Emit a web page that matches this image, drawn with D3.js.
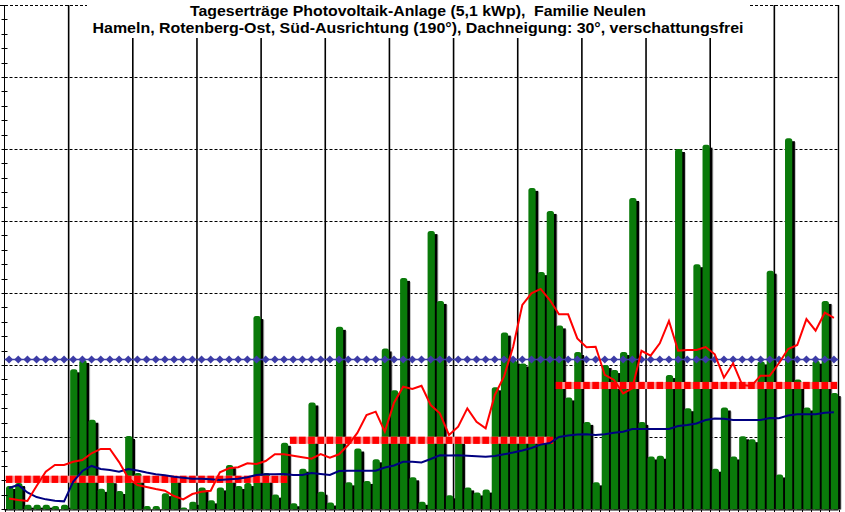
<!DOCTYPE html>
<meta charset="utf-8">
<script src="https://d3js.org/d3.v7.min.js"></script>
<style>
	body{
		margin:0;
		background:#fff;
	}
	svg text{
		font-family: 'Liberation Sans', Arial, sans-serif;
		font-weight:bold;
		white-space:pre;
	}
</style>
<div id="chart"></div>
<script>
	// daily yield (kWh) Jan 1 - Mar 31, leap year -> 91 days
	var dailyKwh = [1.6,1.8,0.3,0.3,0.3,0.2,0.3, 9.7,10.35,6.2,1.4,2.0,1.25,5.07, 2.5,0.2,0.2,1.1,2.2,0.1,0.5,
		1.5,0.6,1.5,3.05,1.6,1.8,13.4, 2.5,1.0,4.6,
		0.4,2.8,7.4,1.2,0.45,12.65,1.85, 4.2,1.95,3.45,11.15,8.25,16.05,2.2, 0.5,19.3,14.45,0.95,4.75,1.5,1.15,
		1.35,8.45,12.25,10.3,10.1,22.3,16.45, 20.7,
		12.75,7.75,10.9,6.05,1.85,10.0,9.65, 10.9,21.6,6.05,3.65,3.7,9.3,25.0, 7.0,17.0,25.3,2.8,7.05,3.65,5.05,
		4.85,10.25,16.55,2.4,25.75,9.0,7.05, 10.3,14.45,8.05]

	// red line
	var redLine = [0.73,0.63,0.56,1.6,2.59,3.06,3.06,3.28,3.4,3.87,4.17,4.17,3.26,2.15,1.67,1.53,1.39,1.27,0.9,0.67,
		1.04,1.2,1.27,2.55,2.83,2.9,3.17,3.13,3.33,3.8,3.8,
		3.7,3.59,3.49,3.82,3.56,3.8,4.44,5.28,6.53,6.76,5.37,7.38,8.49,8.33,8.56,7.22,6.65,5.14,5.72,6.99,
		6.06,5.6,7.92,9.19,11.27,14.17,14.98,15.28,14.51,
		13.52,13.52,11.85,11.23,11.27,9.31,8.96,8.03,8.38,10.99,10.65,11.51,13.06,10.99,11.04,11.04,11.25,
		10.74,9.12,10.12,8.61,8.54,9.26,9.26,10.12,11.11,11.39,13.19,12.38,13.63,13.28]

	// blue line
	var blueLine = [1.46,1.67,1.15,0.83,0.67,0.58,0.53,1.9,2.64,2.99,2.78,2.71,2.59,2.78,2.67,2.53,2.41,2.34,2.24,2.17,
		2.1,2.1,2.06,2.01,2.06,2.1,2.2,2.36,2.41,2.41,2.43,
		2.36,2.36,2.5,2.43,2.36,2.64,2.66,2.66,2.66,2.66,2.88,3.02,3.28,3.28,3.23,3.47,3.73,3.72,3.74,3.7,
		3.66,3.63,3.68,3.8,3.92,4.06,4.24,4.47,4.58,
		5.0,5.1,5.17,5.19,5.14,5.19,5.3,5.37,5.56,5.56,5.56,5.56,5.56,5.76,5.83,5.94,6.18,6.28,6.27,6.18,
		6.18,6.18,6.18,6.32,6.3,6.49,6.58,6.58,6.58,6.69,6.72]

	var monthStart = [0,31,60]
	var monthDays = [31,29,31]
	var monthAvg = [2.06,4.77,8.58]
	var targetLevel = 10.38

	var titleLines = ["Tageserträge Photovoltaik-Anlage (5,1 kWp),  Familie Neulen",
		"Hameln, Rotenberg-Ost, Süd-Ausrichtung (190°), Dachneigung: 30°, verschattungsfrei"]

	var w = 845
	var h = 512
	var nDays = dailyKwh.length

	var x = d3.scaleLinear().domain([0,nDays]).range([4.5,838.5])
	var y = d3.scaleLinear().domain([0,35]).range([509,5])
	var dw = x(1)-x(0)
	function cx(i){ return x(i)+dw/2 }

	var svg = d3.select("#chart").append("svg").attr("width",w).attr("height",h)
	svg.append("rect").attr("width",w).attr("height",h).attr("fill","#fff")

	svg.append("clipPath").attr("id","plotClip")
		.append("rect").attr("x",0).attr("y",0).attr("width",w).attr("height",y(0)+0.5)

	// horizontal dashed grid
	var grid = svg.append("g")
	grid.selectAll(".hgrid")
		.data(d3.range(5,36,5))
		.join("line")
		.attr("x1",function(d){ return d==35 ? 0 : x(0) })
		.attr("x2",x(nDays))
		.attr("y1",function(d){ return Math.round(y(d))+0.5 })
		.attr("y2",function(d){ return Math.round(y(d))+0.5 })
		.attr("stroke","#000")
		.attr("stroke-dasharray","3,2")

	// week lines
	grid.selectAll(".vgrid")
		.data(d3.range(7,nDays,7))
		.join("line")
		.attr("x1",function(d){ return x(d) })
		.attr("x2",function(d){ return x(d) })
		.attr("y1",y(35))
		.attr("y2",y(0))
		.attr("stroke","#000")
		.attr("stroke-width",1.6)

	// right border
	grid.append("line").attr("x1",x(nDays)).attr("x2",x(nDays)).attr("y1",y(35)).attr("y2",y(0))
		.attr("stroke","#000").attr("stroke-width",1.4)

	// bars with shadow
	var bars = svg.append("g").attr("clip-path","url(#plotClip)")
	var bw = dw-1.9
	var barG = bars.selectAll(".bar")
		.data(dailyKwh)
		.join("g")
	barG.append("rect")
		.attr("x",function(d,i){ return x(i)+1.5+3.6 })
		.attr("y",function(d){ return y(d)+4 })
		.attr("width",bw)
		.attr("height",function(d){ return y(0)-y(d)+6 })
		.attr("fill","#9a9a9a")
		.attr("opacity",0.6)
	barG.append("rect")
		.attr("x",function(d,i){ return x(i)+1.5+2.6 })
		.attr("y",function(d){ return y(d)+3 })
		.attr("width",bw)
		.attr("height",function(d){ return y(0)-y(d)+6 })
		.attr("fill","#000")
	barG.append("rect")
		.attr("x",function(d,i){ return x(i)+1.5 })
		.attr("y",function(d){ return y(d) })
		.attr("width",bw)
		.attr("height",function(d){ return y(0)-y(d)+6 })
		.attr("rx",2.5)
		.attr("fill","#0a7a0a")

	// axes
	var axisG = svg.append("g")
	axisG.append("line").attr("x1",x(0)).attr("x2",x(0)).attr("y1",y(35)).attr("y2",y(0)+1)
		.attr("stroke","#000")
	axisG.selectAll(".ytick")
		.data(d3.range(0,36,1))
		.join("line")
		.attr("x1",1.5).attr("x2",7.5)
		.attr("y1",function(d){ return Math.round(y(d))+0.5 })
		.attr("y2",function(d){ return Math.round(y(d))+0.5 })
		.attr("stroke","#000")
	axisG.append("line").attr("x1",x(0)).attr("x2",x(nDays)).attr("y1",y(0)+1).attr("y2",y(0)+1)
		.attr("stroke","#000")
	axisG.selectAll(".xtick")
		.data(d3.range(0,nDays+1))
		.join("line")
		.attr("x1",function(d){ return Math.round(x(d))+0.5 })
		.attr("x2",function(d){ return Math.round(x(d))+0.5 })
		.attr("y1",y(0)+1).attr("y2",h)
		.attr("stroke","#000")

	// target level, diamonds
	var diamondColor = "#3c3ca6"
	svg.append("line").attr("x1",x(0)).attr("x2",x(nDays))
		.attr("y1",y(targetLevel)).attr("y2",y(targetLevel))
		.attr("stroke",diamondColor).attr("stroke-width",1.5)
	svg.append("g").selectAll("path")
		.data(d3.range(nDays))
		.join("path")
		.attr("d",function(d){
			var px = cx(d), py = y(targetLevel)
			return "M"+px+","+(py-4)+"L"+(px+4)+","+py+"L"+px+","+(py+4)+"L"+(px-4)+","+py+"Z"
		})
		.attr("fill",diamondColor)

	// monthly averages as squares
	var monthG = svg.append("g")
	for(var m in monthAvg){
		var days = d3.range(monthStart[m],monthStart[m]+monthDays[m])
		monthG.append("line")
			.attr("x1",cx(days[0])).attr("x2",cx(days[days.length-1]))
			.attr("y1",y(monthAvg[m])).attr("y2",y(monthAvg[m]))
			.attr("stroke","#ff9a9a").attr("stroke-width",7)
		monthG.selectAll(".sq"+m)
			.data(days)
			.join("rect")
			.attr("x",function(d){ return cx(d)-3.3 })
			.attr("y",y(monthAvg[m])-3.6)
			.attr("width",6.6)
			.attr("height",7.2)
			.attr("fill","#ff0000")
	}

	var line = d3.line()
		.x(function(d,i){ return cx(i) })
		.y(function(d){ return y(d) })

	svg.append("path").datum(blueLine)
		.attr("d",line)
		.attr("fill","none")
		.attr("stroke","#000080")
		.attr("stroke-width",2)

	svg.append("path").datum(redLine)
		.attr("d",line)
		.attr("fill","none")
		.attr("stroke","#ff0000")
		.attr("stroke-width",2)

	// title
	svg.append("rect").attr("x",87).attr("y",0).attr("width",661).attr("height",38).attr("fill","#fff")
	var titleLen = [456,651]
	var titleY = [15.5,32.5]
	for(var t in titleLines){
		svg.append("text")
			.attr("x",418)
			.attr("y",titleY[t])
			.attr("text-anchor","middle")
			.attr("font-size","15px")
			.attr("textLength",titleLen[t])
			.attr("lengthAdjust","spacingAndGlyphs")
			.attr("fill","#000")
			.text(titleLines[t])
	}
</script>
